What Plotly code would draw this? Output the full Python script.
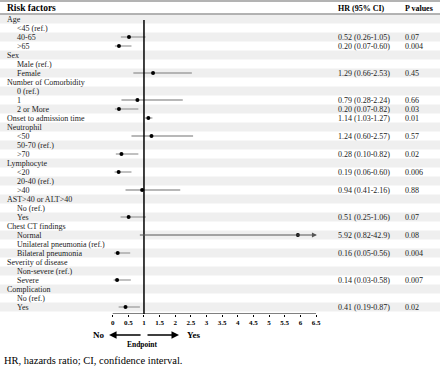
import plotly.graph_objects as go

labels = ["Age", "<45 (ref.)", "40-65", ">65", "Sex", "Male (ref.)", "Female",
          "Number of Comorbidity", "0 (ref.)", "1", "2 or More", "Onset to admission time",
          "Neutrophil", "<50", "50-70 (ref.)", ">70", "Lymphocyte", "<20", "20-40 (ref.)", ">40",
          "AST>40 or ALT>40", "No (ref.)", "Yes", "Chest CT findings", "Normal",
          "Unilateral pneumonia (ref.)", "Bilateral pneumonia", "Severity of disease",
          "Non-severe (ref.)", "Severe", "Complication", "No (ref.)", "Yes"]
indent = [0, 1, 1, 1, 0, 1, 1, 0, 1, 1, 1, 0, 0, 1, 1, 1, 0, 1, 1, 1, 0, 1, 1, 0, 1, 1, 1, 0, 1, 1, 0, 1, 1]
hr = [None, None, 0.52, 0.20, None, None, 1.29, None, None, 0.79, 0.20, 1.14, None, 1.24, None, 0.28,
      None, 0.19, None, 0.94, None, None, 0.51, None, 5.92, None, 0.16, None, None, 0.14, None, None, 0.41]
ci_lo = [None, None, 0.26, 0.07, None, None, 0.66, None, None, 0.28, 0.07, 1.03, None, 0.60, None, 0.10,
         None, 0.06, None, 0.41, None, None, 0.25, None, 0.82, None, 0.05, None, None, 0.03, None, None, 0.19]
ci_hi = [None, None, 1.05, 0.60, None, None, 2.53, None, None, 2.24, 0.82, 1.27, None, 2.57, None, 0.82,
         None, 0.60, None, 2.16, None, None, 1.06, None, 42.9, None, 0.56, None, None, 0.58, None, None, 0.87]
hr_text = ["", "", "0.52 (0.26-1.05)", "0.20 (0.07-0.60)", "", "", "1.29 (0.66-2.53)", "", "",
           "0.79 (0.28-2.24)", "0.20 (0.07-0.82)", "1.14 (1.03-1.27)", "", "1.24 (0.60-2.57)", "",
           "0.28 (0.10-0.82)", "", "0.19 (0.06-0.60)", "", "0.94 (0.41-2.16)", "", "", "0.51 (0.25-1.06)",
           "", "5.92 (0.82-42.9)", "", "0.16 (0.05-0.56)", "", "", "0.14 (0.03-0.58)", "", "", "0.41 (0.19-0.87)"]
p_text = ["", "", "0.07", "0.004", "", "", "0.45", "", "", "0.66", "0.03", "0.01", "", "0.57", "",
          "0.02", "", "0.006", "", "0.88", "", "", "0.07", "", "0.08", "", "0.004", "", "", "0.007", "", "", "0.02"]
tick_vals = [0, 0.5, 1, 1.5, 2, 2.5, 3, 3.5, 4, 4.5, 5, 5.5, 6, 6.5]
tick_text = ["0", "0.5", "1", "1.5", "2", "2.5", "3", "3.5", "4", "4.5", "5", "5.5", "6", "6.5"]

W, H = 440, 371
FONT = "Liberation Serif"
X0PX, UNIT = 112.7, 31.28
XMAX = 6.5


def esc(s):
    return s.replace("&", "&amp;").replace("<", "&lt;").replace(">", "&gt;")


def py(p):
    return 1 - p / H


rows = list(range(1, len(labels) + 1))

fig = go.Figure()

# CI lines
lx, ly = [], []
for r, lo, hi in zip(rows, ci_lo, ci_hi):
    if lo is None:
        continue
    if hi > XMAX:
        continue
    lx += [lo, hi, None]
    ly += [r, r, None]
fig.add_trace(go.Scatter(x=lx, y=ly, mode="lines", line=dict(color="#a0a0a0", width=1.3),
                         hoverinfo="skip", showlegend=False))
# points
px_, py_ = [], []
for r, v in zip(rows, hr):
    if v is not None:
        px_.append(v)
        py_.append(r)
fig.add_trace(go.Scatter(x=px_, y=py_, mode="markers", marker=dict(color="black", size=4),
                         showlegend=False))

shapes = []
# stripes
for r in rows:
    if r % 2 == 1:
        shapes.append(dict(type="rect", xref="paper", yref="y", x0=0, x1=1, y0=r - 0.5, y1=r + 0.5,
                           fillcolor="#efefef", line=dict(width=0), layer="below"))
# header lines
shapes.append(dict(type="line", xref="paper", yref="y", x0=0, x1=1, y0=-1.0, y1=-1.0,
                   line=dict(color="#9a9a9a", width=1.5)))
shapes.append(dict(type="line", xref="paper", yref="y", x0=0, x1=1, y0=0.444, y1=0.444,
                   line=dict(color="#9a9a9a", width=1.5)))
# reference line at 1
shapes.append(dict(type="line", xref="x", yref="y", x0=1, x1=1, y0=1.1, y1=33.778,
                   line=dict(color="black", width=1.5)))
# axis line
shapes.append(dict(type="line", xref="x", yref="y", x0=0, x1=XMAX, y0=33.778, y1=33.778,
                   line=dict(color="black", width=1)))

ann = []
ann.append(dict(xref="paper", yref="y", x=5 / W, y=-0.222, xanchor="left", yanchor="middle",
                text="<b>Risk factors</b>", showarrow=False, font=dict(size=9.5, family=FONT, color="black")))
ann.append(dict(xref="paper", yref="y", x=336 / W, y=-0.222, xanchor="left", yanchor="middle",
                text="<b>HR (95% CI)</b>", showarrow=False, font=dict(size=8, family=FONT, color="black")))
ann.append(dict(xref="paper", yref="y", x=403 / W, y=-0.222, xanchor="left", yanchor="middle",
                text="<b>P values</b>", showarrow=False, font=dict(size=8, family=FONT, color="black")))
for r, lab, ind, ht, pt in zip(rows, labels, indent, hr_text, p_text):
    ann.append(dict(xref="paper", yref="y", x=(15 if ind else 5) / W, y=r, xanchor="left", yanchor="middle",
                    text=esc(lab), showarrow=False, font=dict(size=8, family=FONT, color="#222")))
    if ht:
        ann.append(dict(xref="paper", yref="y", x=336 / W, y=r, xanchor="left", yanchor="middle",
                        text=ht, showarrow=False, font=dict(size=8, family=FONT, color="#222")))
    if pt:
        ann.append(dict(xref="paper", yref="y", x=403 / W, y=r, xanchor="left", yanchor="middle",
                        text=pt, showarrow=False, font=dict(size=8, family=FONT, color="#222")))
# truncated CI arrows
for r, lo, hi in zip(rows, ci_lo, ci_hi):
    if lo is not None and hi > XMAX:
        ann.append(dict(xref="x", yref="y", axref="x", ayref="y", x=XMAX + 0.03, y=r, ax=lo, ay=r,
                        text="", showarrow=True, arrowhead=2, arrowsize=1, arrowwidth=1,
                        arrowcolor="#555"))

# bottom arrows
ann.append(dict(xref="x", yref="paper", x=-0.116, y=py(335), ax=33, ay=0, text="", showarrow=True,
                arrowhead=2, arrowsize=1, arrowwidth=1.5, arrowcolor="black"))
ann.append(dict(xref="x", yref="paper", x=2.12, y=py(335), ax=-33, ay=0, text="", showarrow=True,
                arrowhead=2, arrowsize=1, arrowwidth=1.5, arrowcolor="black"))
ann.append(dict(xref="paper", yref="paper", x=107 / W, y=py(335), xanchor="right", yanchor="middle",
                text="<b>No</b>", showarrow=False, font=dict(size=9, family=FONT, color="black")))
ann.append(dict(xref="paper", yref="paper", x=185 / W, y=py(335), xanchor="left", yanchor="middle",
                text="<b>Yes</b>", showarrow=False, font=dict(size=9, family=FONT, color="black")))
ann.append(dict(xref="paper", yref="paper", x=142 / W, y=py(344), xanchor="center", yanchor="middle",
                text="<b>Endpoint</b>", showarrow=False, font=dict(size=7.5, family=FONT, color="black")))
ann.append(dict(xref="paper", yref="paper", x=2 / W, y=py(360), xanchor="left", yanchor="middle",
                text="HR, hazards ratio; CI, confidence interval.", showarrow=False,
                font=dict(size=10.5, family=FONT, color="black")))

fig.update_layout(
    width=W, height=H, margin=dict(l=0, r=0, t=0, b=0), autosize=False,
    paper_bgcolor="white", plot_bgcolor="rgba(0,0,0,0)",
    shapes=shapes, annotations=ann,
    xaxis=dict(domain=[0, 1], range=[-X0PX / UNIT, (W - X0PX) / UNIT], tickvals=tick_vals,
               ticktext=["<b>%s</b>" % t for t in tick_text], ticks="outside", ticklen=2, tickwidth=1,
               tickcolor="black", showgrid=False, zeroline=False, showline=False,
               tickfont=dict(size=7, family=FONT, color="black"), fixedrange=True),
    yaxis=dict(domain=[1 - 314 / H, 1], range=[33.778, -1.111], visible=False, showgrid=False,
               zeroline=False, fixedrange=True),
    showlegend=False,
)

fig.write_html("out.html", config={"displayModeBar": False},
               post_script="document.body.style.margin='0';document.body.style.overflow='hidden';")
